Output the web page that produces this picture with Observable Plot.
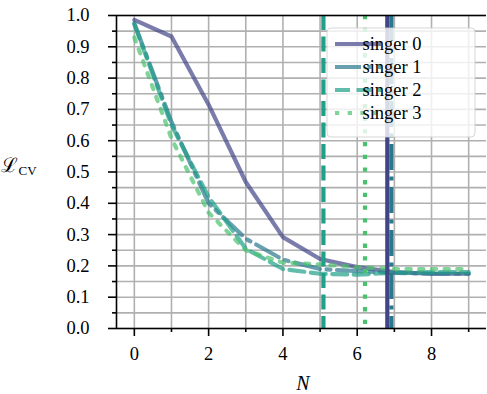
<!DOCTYPE html>
<html>
<head>
<meta charset="utf-8">
<script src="https://cdn.jsdelivr.net/npm/d3@7"></script>
<script src="https://cdn.jsdelivr.net/npm/@observablehq/plot@0.6"></script>
<style>
  html, body { margin: 0; padding: 0; background: white; }
  #chart { width: 487px; height: 394px; }
  svg text { font-family: "Liberation Serif", "Times New Roman", "DejaVu Serif", serif; }
</style>
</head>
<body>
<div id="chart"></div>
<script>
// ---- data ----
const N = [0, 1, 2, 3, 4, 5, 6, 7, 8, 9];
const singerNames = ["singer 0", "singer 1", "singer 2", "singer 3"];
const singer0 = [0.986, 0.933, 0.715, 0.468, 0.292, 0.222, 0.196, 0.180, 0.175, 0.175];
const singer1 = [0.975, 0.660, 0.400, 0.287, 0.220, 0.190, 0.183, 0.178, 0.175, 0.175];
const singer2 = [0.972, 0.650, 0.420, 0.255, 0.190, 0.175, 0.172, 0.178, 0.180, 0.180];
const singer3 = [0.930, 0.607, 0.370, 0.250, 0.210, 0.205, 0.196, 0.190, 0.190, 0.190];
const chosenN = [6.81, 6.92, 5.09, 6.21];
const xTicks = [0, 2, 4, 6, 8];
const yTicks = [0, 0.1, 0.2, 0.3, 0.4, 0.5, 0.6, 0.7, 0.8, 0.9, 1.0];

// ---- styling ----
const colors = ["#414487", "#2a788e", "#1fa088", "#4ac16d"];
const dashes = [null, "26,6.5,4,6.5", "15,6.5", "4.3,8.4"];
const xDomain = [-0.48, 9.48];
const serif = "\"Liberation Serif\", \"Times New Roman\", \"DejaVu Serif\", serif";
const fs = "18.5px";

const series = [singer0, singer1, singer2, singer3];
const rows = series.map((vals, i) => N.map((n, j) => ({N: n, loss: vals[j], singer: singerNames[i]})));
const thresholds = chosenN.map((v, i) => ({N: v, singer: singerNames[i]}));

const xGrid = d3.range(0, 10);
const yGrid = d3.range(0, 21).map(i => i / 20);
const xMinor = [1, 3, 5, 7, 9];
const yMinor = d3.range(0, 10).map(i => (2 * i + 1) / 20);
const noLabel = () => "";

const marks = [
  Plot.gridX(xGrid, {stroke: "#b0b0b0", strokeOpacity: 1, strokeWidth: 1.6}),
  Plot.gridY(yGrid, {stroke: "#b0b0b0", strokeOpacity: 1, strokeWidth: 1.6}),
];
rows.forEach((r, i) => {
  marks.push(Plot.line(r, {x: "N", y: "loss", stroke: colors[i], strokeOpacity: 0.7,
    strokeWidth: 4.2, strokeDasharray: dashes[i] || undefined, strokeLinejoin: "round"}));
});
thresholds.forEach((t, i) => {
  marks.push(Plot.ruleX([t], {x: "N", stroke: colors[i], strokeWidth: 4.2,
    strokeDasharray: dashes[i] || undefined}));
});
marks.push(
  Plot.ruleY([0], {stroke: "black", strokeWidth: 1.6}),
  Plot.ruleY([1], {stroke: "black", strokeWidth: 1.6}),
  Plot.ruleX([xDomain[0]], {stroke: "black", strokeWidth: 1.6}),
  Plot.axisX(xTicks, {tickSize: 8, tickPadding: 10, tickFormat: d3.format("d"), label: null, strokeWidth: 1.6}),
  Plot.axisX(xMinor, {tickSize: 4, tickFormat: noLabel, label: null, strokeWidth: 1.6}),
  Plot.axisY(yTicks, {tickSize: 8, tickPadding: 19, tickFormat: d3.format(".1f"), label: null, strokeWidth: 1.6}),
  Plot.axisY(yMinor, {tickSize: 4, tickFormat: noLabel, label: null, strokeWidth: 1.6})
);

const chart = Plot.plot({
  width: 487,
  height: 394,
  marginLeft: 116,
  marginRight: 1,
  marginTop: 15,
  marginBottom: 66,
  x: {domain: xDomain},
  y: {domain: [0, 1]},
  style: {fontFamily: serif, fontSize: fs, color: "black", background: "white"},
  marks
});

const svg = d3.select(chart);

// axis titles
svg.append("text")
  .attr("x", 303).attr("y", 390)
  .attr("text-anchor", "middle")
  .style("font-style", "italic").style("font-size", "20px")
  .text("N");

const yl = svg.append("text")
  .attr("x", 19).attr("y", 172)
  .style("font-size", "20px");
yl.append("tspan").text("ℒ");
yl.append("tspan").attr("dy", 3).style("font-size", "13px").text("CV");

// legend
const lg = svg.append("g");
lg.append("rect")
  .attr("x", 327).attr("y", 28).attr("width", 148).attr("height", 109)
  .attr("rx", 4).attr("fill", "white").attr("fill-opacity", 0.8)
  .attr("stroke", "#cccccc").attr("stroke-opacity", 0.8).attr("stroke-width", 1);
singerNames.forEach((name, i) => {
  const y = 44 + i * 23;
  lg.append("line")
    .attr("x1", 335).attr("x2", 381).attr("y1", y).attr("y2", y)
    .attr("stroke", colors[i]).attr("stroke-opacity", 0.7).attr("stroke-width", 4.2)
    .attr("stroke-dasharray", dashes[i]);
  lg.append("text")
    .attr("x", 392).attr("y", y).attr("dy", "0.34em")
    .style("font-size", fs)
    .text(name);
});

document.getElementById("chart").appendChild(chart);
</script>
</body>
</html>
